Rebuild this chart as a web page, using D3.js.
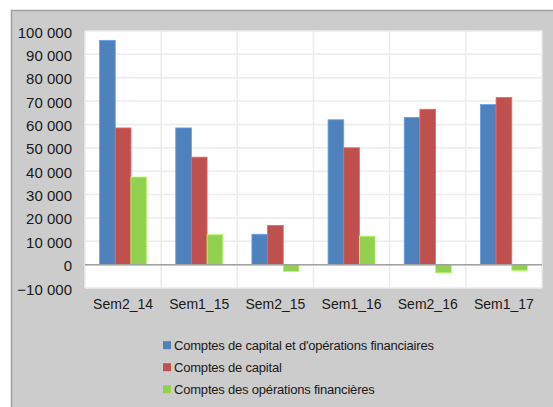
<!DOCTYPE html>
<html><head><meta charset="utf-8">
<script src="https://cdn.jsdelivr.net/npm/d3@7"></script>
<style>
html,body{margin:0;padding:0;background:#fff;}
svg{display:block;}
text{font-family:"Liberation Sans",Arial,sans-serif;fill:#1a1a1a;}
</style></head>
<body>
<svg id="chart" width="553" height="407"></svg>
<script>
const categories = ["Sem2_14","Sem1_15","Sem2_15","Sem1_16","Sem2_16","Sem1_17"];
const seriesNames = ["Comptes de capital et d'opérations financiaires","Comptes de capital","Comptes des opérations financières"];
const seriesColors = ["#4f81bd","#c0504d","#92d050"];
const capitalEtFinancier = [96000, 58500, 13000, 62000, 63000, 68500];
const capital = [58500, 46000, 16800, 50000, 66500, 71500];
const financier = [37500, 12800, -3000, 12200, -3500, -2500];
const yTicks = [-10000,0,10000,20000,30000,40000,50000,60000,70000,80000,90000,100000];
const seriesValues = [capitalEtFinancier, capital, financier];

const svg = d3.select("#chart");
// background panel
svg.append("rect").attr("x",11.5).attr("y",10.5).attr("width",560).attr("height",420)
  .attr("fill","#cccccc").attr("stroke","#a0a0a0").attr("stroke-width",1.5);

const plot = {left:85, right:542, top:31, bottom:288};
svg.append("rect").attr("x",plot.left).attr("y",plot.top)
  .attr("width",plot.right-plot.left).attr("height",plot.bottom-plot.top).attr("fill","#ffffff");

const y = d3.scaleLinear().domain([-10000,100000]).range([plot.bottom, plot.top]);
const x0 = d3.scaleBand().domain(categories).range([plot.left, plot.right]).paddingInner(0).paddingOuter(0);
const x1 = d3.scaleBand().domain(d3.range(seriesNames.length)).range([0, x0.bandwidth()]).paddingInner(0).paddingOuter(0.93);

// horizontal gridlines
svg.append("g").selectAll("line").data(yTicks).join("line")
  .attr("x1",plot.left).attr("x2",plot.right)
  .attr("y1",d=>y(d)).attr("y2",d=>y(d))
  .attr("stroke","#ececec").attr("stroke-width",1.5);
// vertical gridlines
const vlines = categories.map(c=>x0(c)).concat([plot.right]);
svg.append("g").selectAll("line").data(vlines).join("line")
  .attr("x1",d=>d).attr("x2",d=>d).attr("y1",plot.top).attr("y2",plot.bottom)
  .attr("stroke","#ececec").attr("stroke-width",1.5);

// bars
const data = [];
categories.forEach((c,i)=>seriesValues.forEach((vals,s)=>data.push({c, s, v: vals[i]})));
svg.append("g").selectAll("rect").data(data).join("rect")
  .attr("x",d=>x0(d.c)+x1(d.s))
  .attr("width",x1.bandwidth())
  .attr("y",d=>y(Math.max(0,d.v)))
  .attr("height",d=>Math.abs(y(d.v)-y(0)))
  .attr("fill",d=>seriesColors[d.s])
  .attr("stroke",d=>d3.color(seriesColors[d.s]).brighter(0.6))
  .attr("stroke-width",0.8);

// zero line
svg.append("line").attr("x1",plot.left).attr("x2",plot.right)
  .attr("y1",y(0)).attr("y2",y(0)).attr("stroke","#a0a0a0").attr("stroke-width",1.5);

// y axis labels
const fmt = v => d3.format(",")(v).replace(/,/g," ");
const yAxis = d3.axisLeft(y).tickValues(yTicks).tickFormat(fmt).tickSize(0).tickPadding(0);
const gy = svg.append("g").attr("transform",`translate(72,0)`).call(yAxis);
gy.select(".domain").remove();
gy.selectAll("text").attr("font-size",15).attr("font-family","Liberation Sans, Arial, sans-serif").attr("fill","#1a1a1a").attr("dy","0.4em");

// x axis labels
const xAxis = d3.axisBottom(x0).tickSize(0).tickPadding(0);
const gx = svg.append("g").attr("transform",`translate(0,${plot.bottom})`).call(xAxis);
gx.select(".domain").remove();
gx.selectAll("text").attr("font-size",14).attr("font-family","Liberation Sans, Arial, sans-serif").attr("fill","#1a1a1a").attr("y",21).attr("dy",0);

// legend
const legend = svg.append("g");
seriesNames.forEach((name,i)=>{
  const cy = 345.7 + i*22;
  legend.append("rect").attr("x",163).attr("y",cy-4.5).attr("width",8).attr("height",8).attr("fill",seriesColors[i]);
  legend.append("text").attr("x",174).attr("y",cy).attr("dy","0.35em")
    .attr("font-size",13).attr("letter-spacing","-0.2px").text(name);
});
</script>
</body></html>
